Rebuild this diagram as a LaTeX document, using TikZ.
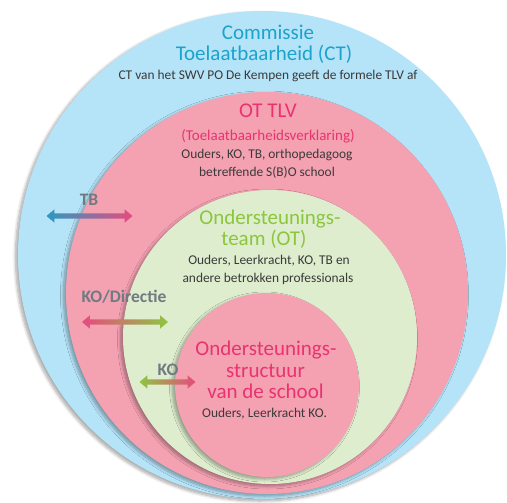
\documentclass[tikz,border=0pt]{standalone}
\usepackage{fontspec}
\setmainfont{Carlito}
\usetikzlibrary{shapes.arrows,shadows.blur}

% palette
\definecolor{ctblue}{HTML}{B5E3F8}
\definecolor{tlvpink}{HTML}{F4A1B2}
\definecolor{otgreen}{HTML}{DDEDCD}
\definecolor{headcyan}{HTML}{1CA3CC}
\definecolor{headmagenta}{HTML}{E8336F}
\definecolor{headgreen}{HTML}{8CC63F}
\definecolor{bodytext}{HTML}{3A3A3A}
\definecolor{labelgray}{HTML}{707A83}
\definecolor{arrowblue}{HTML}{2A9AC2}
\definecolor{arrowpink}{HTML}{E84A7F}
\definecolor{arrowgreen}{HTML}{8DC641}

\tikzset{
  ring/.style={circle, inner sep=0pt, minimum size=#1,
    blur shadow={shadow xshift=-2.5pt, shadow yshift=-2pt,
                 shadow blur radius=3pt, shadow blur steps=8, shadow opacity=35}},
  heading/.style={anchor=base, font=\fontsize{21}{23}\selectfont},
  subheading/.style={anchor=base, font=\fontsize{15}{17}\selectfont},
  body/.style={anchor=base, text=bodytext, font=\fontsize{13.4}{15}\selectfont},
  levellabel/.style={anchor=base, text=labelgray, font=\fontsize{17.5}{19}\selectfont\bfseries},
  levelarrow/.style={double arrow, inner sep=2.4pt, double arrow head extend=4pt,
    double arrow tip angle=80, minimum height=#1},
}

\begin{document}
\begin{tikzpicture}[x=1pt, y=-1pt]
  \useasboundingbox (0,0) rectangle (507,503);

  % nested circles, outermost first
  \node[ring=488pt, fill=ctblue]  (ct)    at (262,255) {};
  \node[ring=402pt, fill=tlvpink] (tlv)   at (267,293) {};
  \node[ring=294pt, fill=otgreen] (ot)    at (270,337) {};
  \node[ring=184pt, fill=tlvpink] (osch)  at (267,385) {};

  % Commissie Toelaatbaarheid
  \node[heading, text=headcyan] (ct1) at (268,40) {Commissie};
  \node[heading, text=headcyan] (ct2) at (264,61) {Toelaatbaarheid (CT)};
  \node[body] (ct3) at (268,80) {CT van het SWV PO De Kempen geeft de formele TLV af};

  % OT TLV
  \node[heading, text=headmagenta] (tlv1) at (268,118) {OT TLV};
  \node[subheading, text=headmagenta] (tlv2) at (268,141) {(Toelaatbaarheidsverklaring)};
  \node[body] (tlv3) at (267,159) {Ouders, KO, TB, orthopedagoog};
  \node[body] (tlv4) at (267,177) {betreffende S(B)O school};

  % Ondersteuningsteam
  \node[heading, text=headgreen] (ot1) at (270,224) {Ondersteunings-};
  \node[heading, text=headgreen] (ot2) at (264,245) {team (OT)};
  \node[body] (ot3) at (269,264) {Ouders, Leerkracht, KO, TB en};
  \node[body] (ot4) at (268,283) {andere betrokken professionals};

  % Ondersteuningsstructuur van de school
  \node[heading, text=headmagenta] (os1) at (266,355) {Ondersteunings-};
  \node[heading, text=headmagenta] (os2) at (265.5,377) {structuur};
  \node[heading, text=headmagenta] (os3) at (265.5,398) {van de school};
  \node[body] (os4) at (264.5,417) {Ouders, Leerkracht KO.};

  % links between the levels
  \node[levellabel] (tblab) at (89,205) {TB};
  \node[levelarrow=86pt, left color=arrowblue, right color=arrowpink] (tbarrow) at (89.5,216) {};

  \node[levellabel] (kodlab) at (124,302) {KO/Directie};
  \node[levelarrow=86pt, left color=arrowpink, right color=arrowgreen] (kodarrow) at (125,322) {};

  \node[levellabel] (kolab) at (168,375) {KO};
  \node[levelarrow=56pt, left color=arrowgreen, right color=arrowpink] (koarrow) at (167.5,382) {};
\end{tikzpicture}
\end{document}
